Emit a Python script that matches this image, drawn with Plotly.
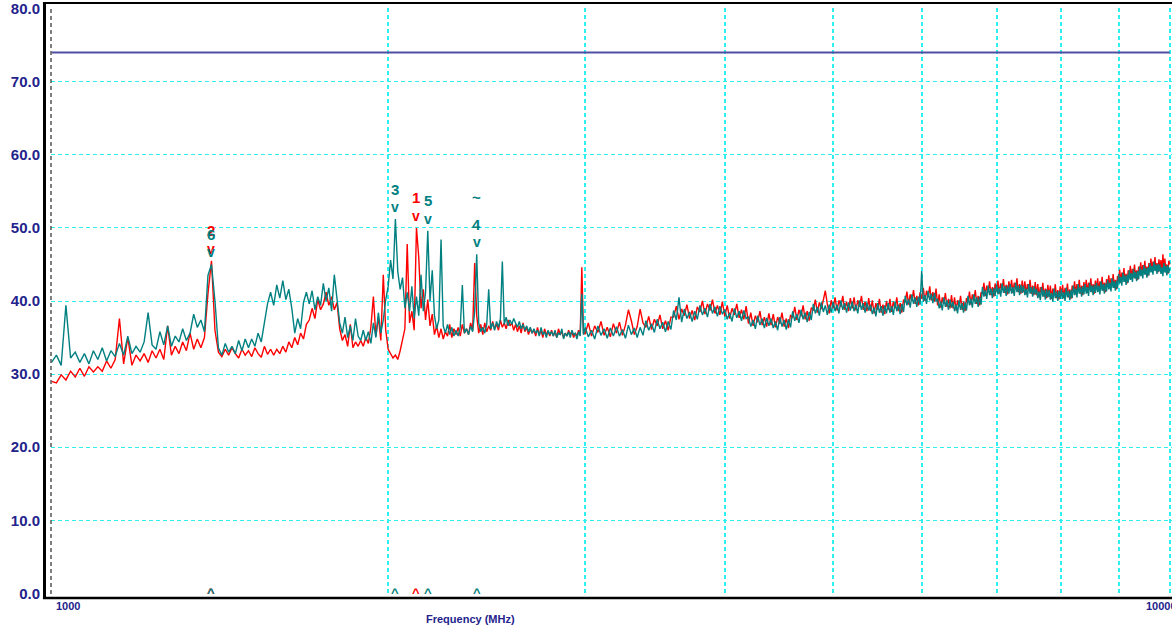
import numpy as np
import plotly.graph_objects as go

# ---------------- data ----------------
FREQ = list(range(1000, 2000, 10)) + list(range(2000, 3000, 10)) + list(range(3000, 10001, 20))

RED = [
    # 1000 - 1990 MHz
    29.0, 28.8, 29.9, 29.2, 30.4, 29.6, 30.8, 29.7, 31.0, 30.3,
    31.0, 30.4, 31.8, 30.8, 32.0, 37.6, 31.4, 35.0, 31.2, 32.6,
    31.8, 32.8, 31.6, 33.2, 32.2, 33.4, 32.0, 36.6, 32.6, 33.8,
    32.8, 34.4, 33.2, 35.6, 33.4, 34.8, 33.6, 35.0, 41.0, 45.5,
    36.0, 33.0, 32.4, 33.4, 32.6, 33.6, 32.8, 32.2, 33.4, 32.6,
    33.2, 32.4, 33.6, 32.8, 32.3, 33.8, 32.7, 33.4, 32.6, 33.4,
    32.8, 33.8, 33.0, 34.4, 33.6, 35.0, 34.0, 35.6, 34.8, 36.8,
    37.4, 39.0, 37.6, 40.2, 38.8, 39.6, 41.2, 39.4, 40.6, 38.8,
    39.8, 36.2, 34.6, 35.4, 33.8, 36.8, 33.6, 34.4, 33.8, 34.6,
    33.8, 35.0, 34.2, 36.4, 40.6, 35.2, 37.8, 34.6, 43.6, 36.0,
    # 2000 - 2990 MHz
    33.4, 32.8, 32.2, 32.6, 32.0, 33.2, 34.6, 36.2, 47.8, 37.0,
    38.6, 36.0, 50.0, 46.0, 39.0, 41.6, 37.4, 40.2, 36.6, 38.2,
    35.4, 36.6, 35.0, 36.2, 34.8, 35.8, 35.2, 36.8, 35.0, 36.2,
    35.4, 36.4, 35.2, 36.8, 35.6, 36.2, 35.4, 37.0, 36.0, 45.2,
    38.0, 35.6, 36.8, 35.4, 37.0, 35.8, 36.6, 36.0, 37.2, 36.2,
    36.8, 36.0, 37.4, 36.4, 37.0, 36.2, 37.4, 36.6, 37.0, 36.0,
    36.8, 35.8, 36.6, 35.6, 37.0, 35.8, 36.4, 35.4, 36.2, 35.6,
    36.0, 35.2, 36.4, 35.4, 36.0, 35.0, 36.2, 35.4, 35.8, 35.2,
    36.0, 35.2, 35.8, 35.0, 36.2, 35.4, 35.8, 35.0, 35.6, 35.2,
    36.0, 35.4, 35.8, 35.0, 35.6, 35.2, 36.0, 35.4, 44.6, 35.6,
    # 3000 - 10000 MHz
    35.5, 37.0, 35.2, 36.6, 35.7, 37.2, 35.3, 36.4, 35.1, 36.9,
    35.6, 37.1, 35.3, 36.7, 38.8, 37.3, 35.4, 36.5, 38.9, 37.0,
    36.4, 37.9, 36.1, 37.5, 36.6, 38.1, 36.2, 37.3, 36.0, 37.8,
    37.8, 39.3, 37.5, 38.9, 38.0, 39.5, 37.6, 38.7, 37.4, 39.2,
    38.5, 40.0, 38.2, 39.6, 38.7, 40.2, 38.3, 39.4, 38.1, 39.9,
    37.9, 39.4, 37.6, 39.0, 38.1, 39.6, 37.7, 38.8, 37.5, 39.3,
    36.9, 38.4, 36.6, 38.0, 37.1, 38.6, 36.7, 37.8, 36.5, 38.3,
    36.7, 38.2, 36.4, 37.8, 36.9, 38.4, 36.5, 37.6, 36.3, 38.1,
    37.7, 39.2, 37.4, 38.8, 37.9, 39.4, 37.5, 38.6, 37.3, 39.1,
    38.7, 40.2, 38.4, 39.8, 38.9, 40.4, 41.4, 39.6, 38.3, 40.1,
    39.0, 40.5, 38.7, 40.1, 39.2, 40.7, 38.8, 39.9, 38.6, 40.4,
    39.0, 40.5, 38.7, 40.1, 39.2, 40.7, 38.8, 39.9, 38.6, 40.4,
    38.6, 40.1, 38.3, 39.7, 38.8, 40.3, 38.4, 39.5, 38.2, 40.0,
    38.8, 40.3, 38.5, 39.9, 39.0, 40.5, 38.6, 39.7, 38.4, 40.2,
    39.8, 41.3, 39.5, 40.9, 40.0, 41.5, 39.6, 40.7, 39.4, 41.2,
    40.3, 41.8, 40.0, 41.4, 40.5, 42.0, 40.1, 41.2, 39.9, 41.7,
    39.4, 40.9, 39.1, 40.5, 39.6, 41.1, 39.2, 40.3, 39.0, 40.8,
    39.0, 40.5, 38.7, 40.1, 39.2, 40.7, 38.8, 39.9, 38.6, 40.4,
    39.8, 41.3, 39.5, 40.9, 40.0, 41.5, 39.6, 40.7, 39.4, 41.2,
    41.0, 42.5, 40.7, 42.1, 41.2, 42.7, 40.8, 41.9, 40.6, 42.4,
    41.3, 42.8, 41.0, 42.4, 41.5, 43.0, 41.1, 42.2, 40.9, 42.7,
    41.4, 42.9, 41.1, 42.5, 41.6, 43.1, 41.2, 42.3, 41.0, 42.8,
    41.2, 42.7, 40.9, 42.3, 41.4, 42.9, 41.0, 42.1, 40.8, 42.6,
    40.8, 42.3, 40.5, 41.9, 41.0, 42.5, 40.6, 41.7, 40.4, 42.2,
    40.6, 42.1, 40.3, 41.7, 40.8, 42.3, 40.4, 41.5, 40.2, 42.0,
    40.7, 42.2, 40.4, 41.8, 40.9, 42.4, 40.5, 41.6, 40.3, 42.1,
    41.2, 42.7, 40.9, 42.3, 41.4, 42.9, 41.0, 42.1, 40.8, 42.6,
    41.4, 42.9, 41.1, 42.5, 41.6, 43.1, 41.2, 42.3, 41.0, 42.8,
    41.6, 43.1, 41.3, 42.7, 41.8, 43.3, 41.4, 42.5, 41.2, 43.0,
    42.0, 43.5, 41.7, 43.1, 42.2, 43.7, 41.8, 42.9, 41.6, 43.4,
    42.8, 44.3, 42.5, 43.9, 43.0, 44.5, 42.6, 43.7, 42.4, 44.2,
    43.3, 44.8, 43.0, 44.4, 43.5, 45.0, 43.1, 44.2, 42.9, 44.7,
    43.8, 45.3, 43.5, 44.9, 44.0, 45.5, 43.6, 44.7, 43.4, 45.2,
    44.3, 45.8, 44.0, 45.4, 44.5, 46.0, 44.1, 45.2, 43.9, 45.7,
    44.1, 45.6, 43.8, 46.4, 44.3, 45.8, 43.9, 45.0, 43.7, 45.5,
    45.0,
]

TEAL = [
    # 1000 - 1990 MHz
    31.6, 32.6, 31.2, 39.4, 32.2, 33.0, 31.6, 32.8, 31.4, 33.2,
    32.0, 33.6, 31.8, 33.2, 32.4, 34.2, 32.6, 35.2, 32.8, 33.8,
    33.0, 34.4, 38.4, 34.0, 33.4, 35.8, 34.0, 36.6, 33.8, 35.2,
    34.4, 36.2, 34.6, 35.6, 38.2, 36.4, 37.4, 35.8, 43.5, 45.0,
    40.0, 33.6, 32.6, 34.2, 33.0, 33.8, 32.8, 34.6, 33.2, 34.8,
    33.6, 34.8, 33.8, 35.6, 34.4, 37.0, 39.6, 41.2, 39.4, 42.2,
    40.4, 42.8, 40.2, 41.6, 39.0, 35.6, 37.6, 36.2, 39.8, 41.2,
    39.6, 41.4, 38.8, 40.6, 39.4, 42.4, 40.0, 41.8, 38.6, 43.6,
    40.2, 37.0, 35.6, 37.8, 35.0, 36.6, 34.6, 37.6, 35.2, 34.6,
    36.0, 34.6, 35.8, 34.2, 37.0, 35.0, 38.4, 35.6, 37.4, 40.2,
    # 2000 - 2990 MHz
    42.0, 45.6, 43.0, 51.2, 44.0, 41.6, 43.2, 39.0, 41.2, 38.6,
    42.0, 37.6, 40.6, 38.0, 43.6, 38.6, 41.2, 49.6, 40.0, 44.2,
    38.0, 36.2, 37.4, 48.4, 36.6, 35.6, 36.8, 35.4, 36.4, 35.2,
    36.0, 35.2, 36.4, 42.2, 35.6, 36.2, 35.4, 36.6, 35.8, 38.6,
    46.4, 37.0, 35.8, 36.4, 35.6, 36.8, 41.6, 36.2, 37.0, 36.0,
    37.2, 36.4, 37.6, 45.4, 36.8, 37.8, 36.6, 37.4, 36.8, 37.6,
    37.0, 36.4, 37.2, 36.2, 36.8, 36.0, 36.6, 35.8, 36.4, 35.6,
    36.2, 35.6, 36.0, 35.2, 36.4, 35.4, 35.8, 35.0, 36.0, 35.4,
    35.8, 35.2, 36.0, 35.0, 35.6, 35.4, 36.2, 34.8, 35.6, 35.2,
    35.8, 35.0, 36.0, 35.4, 35.6, 34.8, 35.8, 35.2, 41.0, 35.4,
    # 3000 - 10000 MHz
    36.4, 35.1, 36.0, 34.8, 36.6, 35.3, 36.2, 34.9, 36.3, 35.2,
    36.5, 35.2, 36.1, 34.9, 36.7, 35.4, 36.3, 35.0, 36.4, 35.3,
    37.3, 36.0, 36.9, 35.7, 37.5, 36.2, 37.1, 35.8, 37.2, 36.1,
    38.7, 37.4, 40.5, 37.1, 38.9, 37.6, 38.5, 37.2, 38.6, 37.5,
    39.4, 38.1, 39.0, 37.8, 39.6, 38.3, 39.2, 37.9, 39.3, 38.2,
    38.8, 37.5, 38.4, 37.2, 39.0, 37.7, 38.6, 37.3, 38.7, 37.6,
    37.8, 36.5, 37.4, 36.2, 38.0, 36.7, 37.6, 36.3, 37.7, 36.6,
    37.6, 36.3, 37.2, 36.0, 37.8, 36.5, 37.4, 36.1, 37.5, 36.4,
    38.6, 37.3, 38.2, 37.0, 38.8, 37.5, 38.4, 37.1, 38.5, 37.4,
    39.6, 38.3, 39.2, 38.0, 39.8, 38.5, 39.4, 38.1, 39.5, 38.4,
    39.9, 38.6, 39.5, 38.3, 40.1, 38.8, 39.7, 38.4, 39.8, 38.7,
    39.9, 38.6, 39.5, 38.3, 40.1, 38.8, 39.7, 38.4, 39.8, 38.7,
    39.5, 38.2, 39.1, 37.9, 39.7, 38.4, 39.3, 38.0, 39.4, 38.3,
    39.7, 38.4, 39.3, 38.1, 39.9, 38.6, 39.5, 38.2, 39.6, 38.5,
    40.7, 39.4, 40.3, 39.1, 40.9, 39.6, 40.5, 39.2, 40.6, 39.5,
    44.1, 39.9, 40.8, 39.6, 41.4, 40.1, 41.0, 39.7, 41.1, 40.0,
    40.3, 39.0, 39.9, 38.7, 40.5, 39.2, 40.1, 38.8, 40.2, 39.1,
    39.9, 38.6, 39.5, 38.3, 40.1, 38.8, 39.7, 38.4, 39.8, 38.7,
    40.7, 39.4, 40.3, 39.1, 40.9, 39.6, 40.5, 39.2, 40.6, 39.5,
    41.9, 40.6, 41.5, 40.3, 42.1, 40.8, 41.7, 40.4, 41.8, 40.7,
    42.2, 40.9, 41.8, 40.6, 42.4, 41.1, 42.0, 40.7, 42.1, 41.0,
    42.3, 41.0, 41.9, 40.7, 42.5, 41.2, 42.1, 40.8, 42.2, 41.1,
    42.1, 40.8, 41.7, 40.5, 42.3, 41.0, 41.9, 40.6, 42.0, 40.9,
    41.7, 40.4, 41.3, 40.1, 41.9, 40.6, 41.5, 40.2, 41.6, 40.5,
    41.5, 40.2, 41.1, 39.9, 41.7, 40.4, 41.3, 40.0, 41.4, 40.3,
    41.6, 40.3, 41.2, 40.0, 41.8, 40.5, 41.4, 40.1, 41.5, 40.4,
    42.1, 40.8, 41.7, 40.5, 42.3, 41.0, 41.9, 40.6, 42.0, 40.9,
    42.3, 41.0, 41.9, 40.7, 42.5, 41.2, 42.1, 40.8, 42.2, 41.1,
    42.5, 41.2, 42.1, 40.9, 42.7, 41.4, 42.3, 41.0, 42.4, 41.3,
    42.9, 41.6, 42.5, 41.3, 43.1, 41.8, 42.7, 41.4, 42.8, 41.7,
    43.7, 42.4, 43.3, 42.1, 43.9, 42.6, 43.5, 42.2, 43.6, 42.5,
    44.2, 42.9, 43.8, 42.6, 44.4, 43.1, 44.0, 42.7, 44.1, 43.0,
    44.7, 43.4, 44.3, 43.1, 44.9, 43.6, 44.5, 43.2, 44.6, 43.5,
    45.2, 43.9, 44.8, 43.6, 45.4, 44.1, 45.0, 43.7, 45.1, 44.0,
    45.0, 43.7, 44.6, 43.4, 45.2, 43.9, 44.8, 43.5, 44.9, 43.8,
    44.5,
]

LIMIT_LEVEL = 74.0
Y_TICKS = [0, 10, 20, 30, 40, 50, 60, 70, 80]
X_GRID = [1000, 2000, 3000, 4000, 5000, 6000, 7000, 8000, 9000, 10000]
X_LABELS = ["1000", "10000"]
X_TITLE = "Frequency (MHz)"

MARKER_NO = ["1", "2", "3", "4", "5", "6"]
MARKER_FREQ = [2120, 1390, 2030, 2400, 2170, 1390]
MARKER_LEVEL = [50.0, 45.5, 51.2, 46.4, 49.6, 45.0]
MARKER_TRACE = ["red", "red", "teal", "teal", "teal", "teal"]

# ---------------- styles ----------------
COL = {"red": "#ff0000", "teal": "#008080"}
NAVY = "#23238c"
GRID = "#2ff0f0"
FONT = "Liberation Sans, Arial, sans-serif"

n = min(len(FREQ), len(RED), len(TEAL))

fig = go.Figure()
fig.add_trace(go.Scatter(x=FREQ[:n], y=RED[:n], mode="lines",
                         line=dict(color=COL["red"], width=1.4), hoverinfo="skip"))
fig.add_trace(go.Scatter(x=FREQ[:n], y=TEAL[:n], mode="lines",
                         line=dict(color=COL["teal"], width=1.4), hoverinfo="skip"))
fig.add_trace(go.Scatter(x=[X_GRID[0], X_GRID[-1]], y=[LIMIT_LEVEL, LIMIT_LEVEL], mode="lines",
                         line=dict(color="#4f4fa3", width=2), hoverinfo="skip"))

annotations = []
for no, f, lv, tr in zip(MARKER_NO, MARKER_FREQ, MARKER_LEVEL, MARKER_TRACE):
    c = COL[tr]
    lx = float(np.log10(f))
    annotations.append(dict(x=lx, y=lv, xref="x", yref="y", text=no, showarrow=False,
                            yshift=30, font=dict(family=FONT, size=15, color=c, weight="bold")))
    annotations.append(dict(x=lx, y=lv, xref="x", yref="y", text="v", showarrow=False,
                            yshift=12, font=dict(family=FONT, size=14, color=c, weight="bold")))
    annotations.append(dict(x=lx, y=0, xref="x", yref="y", text="^", showarrow=False,
                            yshift=1, font=dict(family=FONT, size=13, color=c, weight="bold")))
    if no == "4":
        annotations.append(dict(x=lx, y=lv, xref="x", yref="y", text="~", showarrow=False,
                                yshift=57, font=dict(family=FONT, size=15, color=c, weight="bold")))

annotations.append(dict(x=np.log10(X_GRID[0]), y=0, xref="x", yref="paper", text=X_LABELS[0],
                        showarrow=False, xanchor="left", yanchor="top", xshift=2, yshift=-4,
                        font=dict(family=FONT, size=11, color=NAVY, weight="bold")))
annotations.append(dict(x=np.log10(X_GRID[-1]), y=0, xref="x", yref="paper", text=X_LABELS[1],
                        showarrow=False, xanchor="left", yanchor="top", xshift=-26, yshift=-4,
                        font=dict(family=FONT, size=11, color=NAVY, weight="bold")))
annotations.append(dict(x=(470 - 51) / 1121, y=-0.043, xref="paper", yref="paper", text=X_TITLE,
                        showarrow=False, xanchor="center", yanchor="middle",
                        font=dict(family=FONT, size=11, color=NAVY, weight="bold")))

shapes = [
    dict(type="line", xref="paper", yref="paper", x0=0, x1=0, y0=0, y1=1,
         line=dict(color="#555555", width=1.5, dash="4px,3px")),
    dict(type="line", xref="paper", yref="paper", x0=-0.0058, x1=-0.0058, y0=-0.0075, y1=1.0085,
         line=dict(color="black", width=3)),
    dict(type="line", xref="paper", yref="paper", x0=-0.0072, x1=1.0, y0=-0.0068, y1=-0.0068,
         line=dict(color="black", width=2.5)),
    dict(type="line", xref="paper", yref="paper", x0=-0.0072, x1=1.0, y0=1.0085, y1=1.0085,
         line=dict(color="black", width=2)),
]

fig.update_layout(
    width=1172, height=634,
    margin=dict(l=51, r=0, t=8, b=40),
    paper_bgcolor="white", plot_bgcolor="white",
    showlegend=False,
    annotations=annotations,
    shapes=shapes,
    xaxis=dict(type="log", range=[2.9995, 4.002], tickvals=X_GRID, showticklabels=False,
               showgrid=True, gridcolor=GRID, gridwidth=1.6, griddash="4px,3px",
               zeroline=False, showline=False, ticks=""),
    yaxis=dict(range=[-0.08, 80.08], tickvals=Y_TICKS, tickformat=".1f",
               tickfont=dict(family=FONT, size=15, color=NAVY, weight="bold"),
               ticklabelstandoff=10, ticklabeloverflow="allow",
               showgrid=True, gridcolor=GRID, gridwidth=1.3, griddash="4px,3px",
               zeroline=False, showline=False, ticks=""),
)

fig.write_html("out.html", config={"displayModeBar": False},
               post_script="document.body.style.margin='0px';")
